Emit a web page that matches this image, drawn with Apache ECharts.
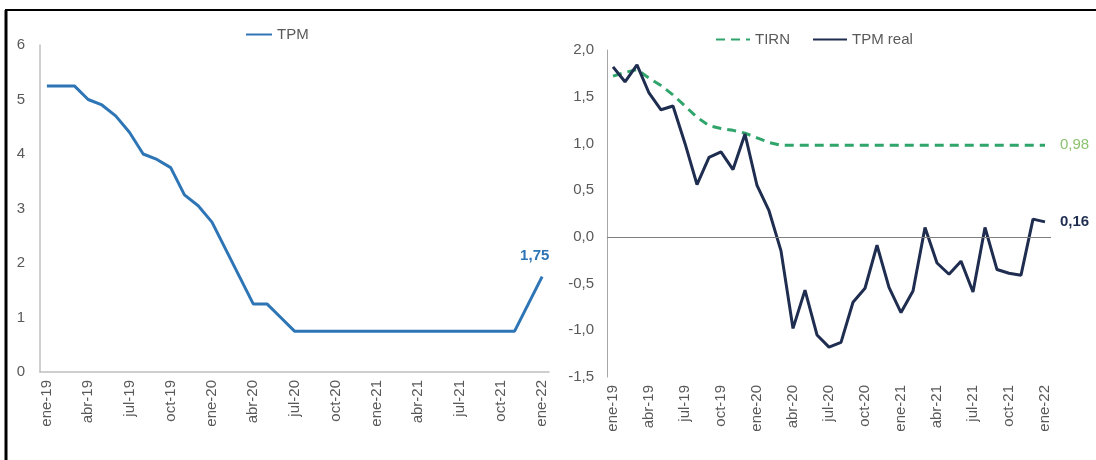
<!DOCTYPE html>
<html><head><meta charset="utf-8">
<script src="https://cdn.jsdelivr.net/npm/echarts@6/dist/echarts.min.js"></script>
<style>html,body{margin:0;padding:0;background:#fff}#c{width:1096px;height:460px}</style>
</head><body><div id="c"></div>
<script>
const months = ['ene-19','feb-19','mar-19','abr-19','may-19','jun-19','jul-19','ago-19','sep-19','oct-19','nov-19','dic-19',
'ene-20','feb-20','mar-20','abr-20','may-20','jun-20','jul-20','ago-20','sep-20','oct-20','nov-20','dic-20',
'ene-21','feb-21','mar-21','abr-21','may-21','jun-21','jul-21','ago-21','sep-21','oct-21','nov-21','dic-21','ene-22'];
const tpm = [5.25,5.25,5.25,5.0,4.9,4.7,4.4,4.0,3.9,3.75,3.25,3.05,
2.75,2.25,1.75,1.25,1.25,1.0,0.75,0.75,0.75,0.75,0.75,0.75,
0.75,0.75,0.75,0.75,0.75,0.75,0.75,0.75,0.75,0.75,0.75,1.25,1.75];
const tirn = [1.72,1.76,1.79,1.70,1.62,1.52,1.40,1.28,1.19,1.16,1.14,1.11,
1.06,1.01,0.98,0.98,0.98,0.98,0.98,0.98,0.98,0.98,0.98,0.98,
0.98,0.98,0.98,0.98,0.98,0.98,0.98,0.98,0.98,0.98,0.98,0.98,0.98];
const tpmReal = [1.82,1.66,1.84,1.54,1.36,1.40,1.00,0.56,0.85,0.91,0.72,1.10,
0.55,0.28,-0.15,-0.98,-0.57,-1.05,-1.18,-1.13,-0.70,-0.55,-0.09,-0.54,
-0.81,-0.58,0.10,-0.28,-0.40,-0.26,-0.59,0.10,-0.35,-0.39,-0.41,0.19,0.16];

const FONT = 'Liberation Sans, Arial, sans-serif';
const GRAY = '#595959';
const cBlue = '#2E75B6', cNavy = '#1F2D50', cGreen = '#2FA56B', cLabelGreen = '#8DC26F';

function endLbl(color, bold, extra) {
  return Object.assign({ show: true, color: color, fontSize: 15, fontFamily: FONT,
    fontWeight: bold ? 'bold' : 'normal',
    formatter: p => Number(p.value).toFixed(2).replace('.', ',') }, extra);
}

const xCommon = {
  type: 'category', data: months, boundaryGap: true,
  axisTick: { show: false },
  axisLabel: { interval: 2, rotate: 90, color: GRAY, fontSize: 15, fontFamily: FONT, margin: 8 }
};
const legendText = { color: GRAY, fontSize: 15, fontFamily: FONT };

const chart = echarts.init(document.getElementById('c'));
chart.setOption({
  animation: false,
  textStyle: { fontFamily: FONT },
  graphic: [
    { type: 'line', shape: { x1: 5, y1: 10, x2: 1096, y2: 10 }, style: { stroke: '#000', lineWidth: 2 } },
    { type: 'line', shape: { x1: 6, y1: 10, x2: 6, y2: 460 }, style: { stroke: '#000', lineWidth: 3 } }
  ],
  legend: [
    { data: ['TPM'], left: 240, top: 22, itemWidth: 26, itemHeight: 14, itemGap: 20,
      itemStyle: { opacity: 0 }, textStyle: legendText },
    { data: ['TIRN', 'TPM real'], left: 710, top: 27, itemWidth: 34, itemHeight: 14, itemGap: 22,
      itemStyle: { opacity: 0 }, textStyle: legendText }
  ],
  grid: [
    { left: 40, top: 45, width: 509, height: 327 },
    { left: 607, top: 50, width: 444, height: 327 }
  ],
  xAxis: [
    Object.assign({}, xCommon, { gridIndex: 0,
      axisLine: { show: true, lineStyle: { color: '#BFBFBF', width: 1.5 } } }),
    Object.assign({}, xCommon, { gridIndex: 1,
      axisLine: { show: false } })
  ],
  yAxis: [
    { type: 'value', gridIndex: 0, min: 0, max: 6, interval: 1,
      axisLine: { show: true, lineStyle: { color: '#BFBFBF', width: 1.5 } },
      axisTick: { show: false }, splitLine: { show: false },
      axisLabel: { color: GRAY, fontSize: 15, fontFamily: FONT, margin: 15 } },
    { type: 'value', gridIndex: 1, min: -1.5, max: 2, interval: 0.5,
      axisLine: { show: true, lineStyle: { color: '#A6A6A6', width: 1 } },
      axisTick: { show: false }, splitLine: { show: false },
      axisLabel: { color: GRAY, fontSize: 15, fontFamily: FONT, margin: 13,
        formatter: v => v.toFixed(1).replace('.', ',') } }
  ],
  series: [
    { name: 'TPM', type: 'line', xAxisIndex: 0, yAxisIndex: 0, symbol: 'none',
      lineStyle: { color: cBlue, width: 3 }, itemStyle: { color: cBlue },
      endLabel: endLbl(cBlue, true, { offset: [-30, -21] }),
      data: tpm },
    { name: 'TIRN', type: 'line', xAxisIndex: 1, yAxisIndex: 1, symbol: 'none',
      lineStyle: { color: cGreen, width: 3, type: [9, 6] }, itemStyle: { color: cGreen },
      endLabel: endLbl(cLabelGreen, false, { distance: 15 }),
      data: tirn },
    { name: 'TPM real', type: 'line', xAxisIndex: 1, yAxisIndex: 1, symbol: 'none',
      lineStyle: { color: cNavy, width: 3 }, itemStyle: { color: cNavy },
      endLabel: endLbl(cNavy, true, { distance: 15 }),
      data: tpmReal,
      markLine: { silent: true, symbol: 'none', label: { show: false },
        lineStyle: { color: '#7F7F7F', width: 1, type: 'solid' },
        data: [{ yAxis: 0 }] } }
  ]
});
</script></body></html>
